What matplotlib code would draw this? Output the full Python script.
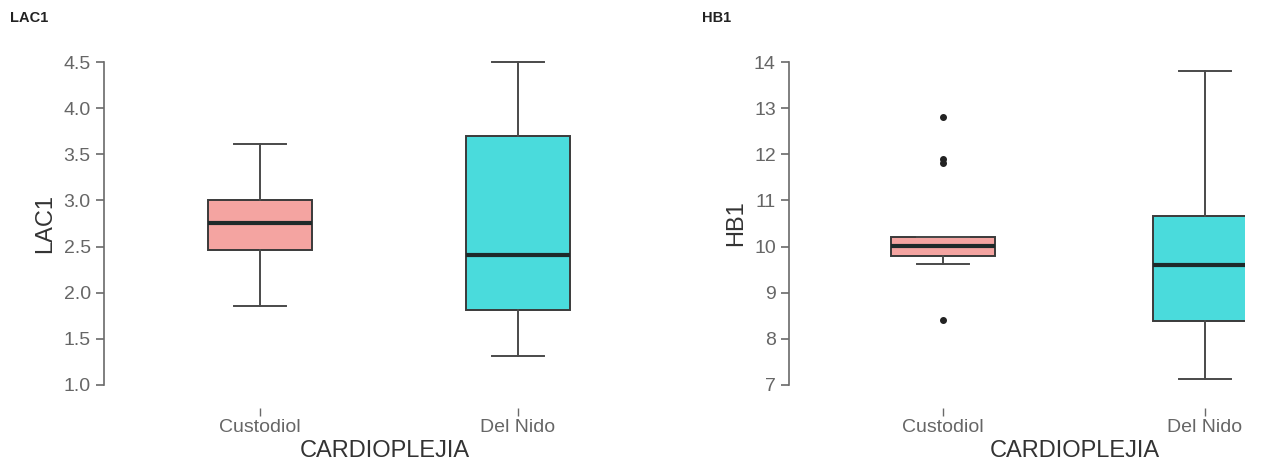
import matplotlib.pyplot as plt

plt.rcParams['font.family'] = ['Liberation Sans', 'DejaVu Sans']

groups = ['Custodiol', 'Del Nido']
box_colors = ['#f4a4a1', '#4adbdc']

# LAC1 box stats: (whislo, q1, med, q3, whishi)
lac1_stats = [(1.86, 2.46, 2.76, 3.01, 3.61),
              (1.31, 1.81, 2.41, 3.70, 4.50)]
lac1_fliers = [[], []]

# HB1 box stats
hb1_stats = [(9.62, 9.80, 10.01, 10.21, 10.21),
             (7.12, 8.39, 9.61, 10.66, 13.81)]
hb1_fliers = [[12.81, 11.90, 11.82, 8.40], []]

W, H = 1261, 466
fig = plt.figure(figsize=(W / 100, H / 100), dpi=100)


def px_axes(x0, x1, y0, y1):
    # pixel box (top-left origin) -> figure fraction
    return fig.add_axes([x0 / W, 1 - y1 / H, (x1 - x0) / W, (y1 - y0) / H])


def draw(ax, stats, fliers, yticks, ticklabels, ylabel, xlim, xlabel_x):
    bxp = []
    for s, f, g in zip(stats, fliers, groups):
        bxp.append(dict(whislo=s[0], q1=s[1], med=s[2], q3=s[3], whishi=s[4],
                        fliers=f, label=g))
    res = ax.bxp(bxp, positions=[1, 2], widths=0.4, patch_artist=True,
                 showfliers=True,
                 boxprops=dict(edgecolor='#3a3a3a', linewidth=1.4),
                 medianprops=dict(color='#1e2a2a', linewidth=3),
                 whiskerprops=dict(color='#4a4a4a', linewidth=1.4),
                 capprops=dict(color='#4a4a4a', linewidth=1.4),
                 flierprops=dict(marker='o', markerfacecolor='#222222',
                                 markeredgecolor='#222222', markersize=4))
    for patch, c in zip(res['boxes'], box_colors):
        patch.set_facecolor(c)
    pad = (yticks[-1] - yticks[0]) * 0.0285
    ax.set_ylim(yticks[0] - pad, yticks[-1] + pad)
    ax.set_xlim(*xlim)
    ax.set_yticks(yticks)
    ax.set_yticklabels(ticklabels)
    for side in ['top', 'right', 'bottom']:
        ax.spines[side].set_visible(False)
    ax.spines['left'].set_bounds(yticks[0], yticks[-1])
    ax.spines['left'].set_color('#6a6a6a')
    ax.spines['left'].set_linewidth(1.2)
    ax.spines['bottom'].set_position(('outward', 10))
    ax.tick_params(axis='y', colors='#6a6a6a', labelsize=14, length=6,
                   width=1.2, labelcolor='#666666')
    ax.tick_params(axis='x', colors='#6a6a6a', labelsize=14, length=6,
                   width=1.0, labelcolor='#666666', pad=2)
    ax.set_ylabel(ylabel, fontsize=17, color='#333333', labelpad=5)
    ax.set_xlabel('CARDIOPLEJIA', fontsize=17, color='#333333')
    ax.xaxis.set_label_coords(xlabel_x, -0.135)


ax1 = px_axes(104, 600, 52.8, 394.2)
draw(ax1, lac1_stats, lac1_fliers, [1.0, 1.5, 2.0, 2.5, 3.0, 3.5, 4.0, 4.5],
     ['1.0', '1.5', '2.0', '2.5', '3.0', '3.5', '4.0', '4.5'], 'LAC1',
     (0.395, 2.318), (385 - 104) / 496)

ax2 = px_axes(789, 1245, 52.8, 394.2)
draw(ax2, hb1_stats, hb1_fliers, [7, 8, 9, 10, 11, 12, 13, 14],
     ['7', '8', '9', '10', '11', '12', '13', '14'], 'HB1',
     (0.412, 2.153), (1075 - 789) / 456)

fig.text(10 / W, 1 - 18 / H, 'LAC1', fontsize=10.5, fontweight='bold',
         color='#222222', va='center')
fig.text(702 / W, 1 - 18 / H, 'HB1', fontsize=10.5, fontweight='bold',
         color='#222222', va='center')

fig.savefig('out.png', dpi=100)
